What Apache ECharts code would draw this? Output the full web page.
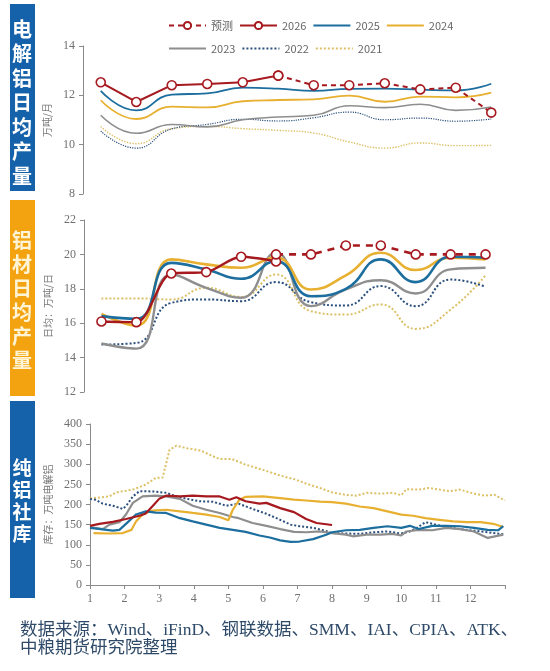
<!DOCTYPE html>
<html lang="zh">
<head>
<meta charset="UTF-8"/>
<title>电解铝 / 铝材 / 纯铝社库</title>
<script src="https://cdn.jsdelivr.net/npm/echarts@6/dist/echarts.min.js"></script>
<style>
  html, body { margin: 0; padding: 0; background: #fff; }
  #main { width: 550px; height: 671px; }
</style>
</head>
<body>
<div id="main"></div>
<script type="text/javascript">
// 月份
var months = ['1', '2', '3', '4', '5', '6', '7', '8', '9', '10', '11', '12'];

// 电解铝日均产量 (万吨/月)
var alFcst = [null, null, null, null, null, 12.80, 12.41, 12.41, 12.49, 12.24, 12.31, 11.30];
var al2026 = [12.53, 11.73, 12.41, 12.46, 12.53, 12.80];
var al2025 = [12.18, 11.39, 12.03, 12.08, 12.31, 12.27, 12.18, 12.26, 12.27, 12.23, 12.20, 12.47];
var al2024 = [11.80, 11.04, 11.54, 11.51, 11.76, 11.81, 11.84, 11.99, 11.74, 11.95, 11.92, 12.11];
var al2023 = [11.19, 10.46, 10.82, 10.72, 11.01, 11.12, 11.19, 11.58, 11.50, 11.64, 11.39, 11.53];
var al2022 = [10.55, 9.86, 10.64, 10.82, 11.03, 10.96, 11.09, 11.32, 11.01, 11.08, 10.95, 11.04];
var al2021 = [10.74, 10.04, 10.65, 10.74, 10.65, 10.58, 10.47, 10.11, 9.86, 10.07, 9.96, 9.97];

// 铝材日均产量 (万吨/日)
var matFcst = [null, null, null, null, null, 20.0, 20.0, 20.52, 20.52, 20.0, 20.0, 20.0];
var mat2026 = [16.10, 16.06, 18.89, 18.97, 19.86, 19.59];
var mat2025 = [16.41, 16.25, 19.51, 19.13, 18.58, 19.61, 17.57, 18.00, 19.71, 18.39, 19.86, 19.81];
var mat2024 = [16.54, 15.86, 19.71, 19.42, 19.22, 19.81, 17.96, 18.78, 20.10, 19.09, 19.81, 19.71];
var mat2023 = [14.82, 14.52, 18.83, 18.06, 17.48, 20.10, 16.99, 17.96, 18.50, 17.73, 19.13, 19.22];
var mat2022 = [14.76, 14.85, 17.18, 17.38, 17.28, 18.39, 17.22, 17.03, 18.16, 16.99, 18.54, 18.12];
var mat2021 = [17.44, 17.44, 17.38, 18.06, 17.53, 18.83, 16.70, 16.50, 17.09, 15.67, 16.79, 18.78];

// 纯铝社库 (万吨) [月份位置, 库存]
var inv2026 = [[1.0, 147], [1.27, 152], [1.66, 157], [2.04, 164], [2.43, 172], [2.6, 177], [2.8, 195], [3.0, 214],
  [3.2, 222], [3.6, 220], [3.97, 222], [4.36, 220], [4.75, 220], [5.03, 212], [5.23, 218], [5.5, 208], [5.9, 202],
  [6.1, 204], [6.5, 191], [6.9, 181], [7.25, 164], [7.55, 154], [8.0, 149]];
var inv2025 = [[1.0, 142], [1.3, 139], [1.66, 135], [1.85, 137], [2.04, 152], [2.33, 175], [2.62, 183], [2.9, 180],
  [3.2, 179], [3.6, 166], [3.97, 158], [4.36, 150], [4.75, 142], [5.13, 137], [5.5, 132], [5.9, 123], [6.2, 118],
  [6.5, 111], [6.8, 107], [7.06, 108], [7.45, 114], [7.83, 125], [8.0, 131], [8.4, 136], [8.8, 137], [9.2, 142],
  [9.6, 146], [10.0, 142], [10.25, 147], [10.5, 139], [10.9, 147], [11.3, 147], [11.7, 146], [12.1, 142],
  [12.5, 137], [12.8, 136], [12.95, 146]];
var inv2024 = [[1.1, 129], [1.56, 128], [1.95, 129], [2.2, 137], [2.33, 158], [2.52, 175], [2.8, 185], [3.2, 187],
  [3.6, 183], [3.97, 179], [4.36, 175], [4.75, 169], [5.0, 161], [5.13, 187], [5.32, 212], [5.5, 219], [6.0, 220],
  [6.5, 216], [6.9, 212], [7.25, 210], [7.65, 207], [8.0, 206], [8.4, 202], [8.8, 195], [9.2, 191], [9.6, 183],
  [10.0, 175], [10.34, 172], [10.7, 166], [11.1, 162], [11.5, 158], [11.9, 156], [12.3, 156], [12.66, 152],
  [12.95, 144]];
var inv2023 = [[1.0, 144], [1.37, 139], [1.56, 150], [1.85, 156], [2.04, 175], [2.24, 204], [2.52, 220], [2.9, 222],
  [3.2, 220], [3.6, 214], [3.97, 197], [4.36, 187], [4.75, 179], [5.13, 169], [5.3, 166], [5.7, 154], [6.1, 147],
  [6.5, 139], [6.9, 132], [7.25, 131], [7.65, 133], [8.0, 129], [8.4, 125], [8.6, 121], [9.0, 125], [9.4, 125],
  [9.75, 127], [10.0, 123], [10.15, 133], [10.5, 137], [10.9, 136], [11.3, 142], [11.7, 139], [12.1, 133],
  [12.5, 117], [12.95, 125]];
var inv2022 = [[1.0, 214], [1.15, 212], [1.37, 202], [1.66, 197], [1.95, 189], [2.05, 197], [2.24, 220], [2.43, 233],
  [2.62, 233], [2.9, 232], [3.2, 229], [3.5, 220], [3.8, 214], [4.17, 208], [4.55, 207], [4.94, 197], [5.3, 202],
  [5.7, 189], [6.1, 177], [6.5, 162], [6.8, 150], [7.06, 146], [7.45, 142], [7.8, 135], [8.0, 129], [8.4, 128],
  [8.8, 127], [9.2, 131], [9.6, 133], [10.0, 128], [10.25, 133], [10.45, 142], [10.7, 156], [10.9, 152],
  [11.3, 144], [11.7, 139], [12.1, 135], [12.5, 131], [12.95, 126]];
var inv2021 = [[1.0, 215], [1.56, 220], [1.75, 230], [2.24, 237], [2.6, 249], [2.9, 266], [3.1, 267], [3.3, 336],
  [3.5, 346], [3.8, 340], [4.2, 334], [4.55, 320], [4.75, 313], [5.1, 313], [5.5, 299], [6.0, 286], [6.5, 272],
  [6.9, 263], [7.25, 252], [7.65, 241], [8.0, 230], [8.4, 224], [8.7, 222], [9.0, 229], [9.4, 227], [9.75, 229],
  [10.0, 223], [10.15, 238], [10.5, 237], [10.8, 241], [11.1, 237], [11.4, 233], [11.7, 237], [12.1, 227],
  [12.4, 222], [12.7, 224], [13.0, 210]];

var cRed = '#A6191F', cBlue = '#1C6E9E', cGold = '#E8B030', cGray = '#8E8E8E', cNavy = '#2B4F7C', cLight = '#DCC066';
var serif = '"Liberation Serif", "DejaVu Serif", serif';
var cjk = '"Noto Sans CJK SC", sans-serif';

var myChart = echarts.init(document.getElementById('main'));

function yAx(idx, min, max, step, name, gap) {
    return {
        type: 'value', gridIndex: idx, min: min, max: max, interval: step,
        name: name, nameLocation: 'middle', nameGap: gap, nameRotate: 90,
        nameTextStyle: { color: '#7a7a7a', fontSize: 10, fontFamily: cjk },
        axisLine: { show: true, lineStyle: { color: '#8a8a8a', width: 1 } },
        axisTick: { show: true, length: 4, lineStyle: { color: '#8a8a8a' } },
        axisLabel: { color: '#707070', fontSize: 12, fontFamily: serif, margin: 8 },
        splitLine: { show: false }
    };
}

function catX(idx) {
    return {
        type: 'category', gridIndex: idx, data: months, boundaryGap: true,
        axisLine: { show: false }, axisTick: { show: false }, axisLabel: { show: false }
    };
}

// 无标记的线: 圆点透明, 图例里也只剩线
function line(name, idx, data, color, width, type, smooth, marker) {
    return {
        name: name, type: 'line', xAxisIndex: idx, yAxisIndex: idx, data: data,
        smooth: smooth, connectNulls: false,
        symbol: 'circle', symbolSize: 9, showSymbol: !!marker,
        itemStyle: { color: '#fff', borderColor: color, borderWidth: 1.6, opacity: marker ? 1 : 0 },
        lineStyle: { color: color, width: width, type: type },
        emphasis: { disabled: true },
        z: marker ? 5 : 2
    };
}

var legendText = { color: '#666', fontSize: 11, fontFamily: cjk };

var option = {
    animation: false,
    backgroundColor: '#ffffff',
    legend: [{
        top: 15, left: 163, itemWidth: 37, itemHeight: 9, itemGap: 6,
        textStyle: legendText,
        data: ['预测', '2026', '2025', '2024']
    }, {
        top: 38, left: 163, itemWidth: 37, itemHeight: 9, itemGap: 6,
        textStyle: legendText,
        data: ['2023', '2022', '2021']
    }],
    grid: [
        { left: 83, top: 46, width: 426, height: 148 },
        { left: 84, top: 220, width: 419, height: 172 },
        { left: 90, top: 424, width: 415, height: 161 }
    ],
    xAxis: [
        catX(0),
        catX(1),
        {
            type: 'value', gridIndex: 2, min: 1, max: 13, interval: 1,
            axisLine: { show: true, lineStyle: { color: '#8a8a8a' } },
            axisTick: { show: true, length: 4, lineStyle: { color: '#8a8a8a' } },
            axisLabel: {
                color: '#707070', fontSize: 12, fontFamily: serif, margin: 8,
                formatter: function (v) { return v >= 13 ? '' : v; }
            },
            splitLine: { show: false }
        }
    ],
    yAxis: [
        yAx(0, 8, 14, 2, '万吨/月', 27),
        yAx(1, 12, 22, 2, '日均：万吨/日', 28),
        yAx(2, 0, 400, 50, '库存：万吨电解铝', 31)
    ],
    graphic: [
        { type: 'rect', left: 10, top: 4, shape: { width: 25, height: 187 }, style: { fill: '#1662AA' } },
        { type: 'rect', left: 10, top: 200, shape: { width: 25, height: 196 }, style: { fill: '#F2A30F' } },
        { type: 'rect', left: 10, top: 401, shape: { width: 25, height: 197 }, style: { fill: '#1662AA' } },
        {
            type: 'text', left: 12, top: 17,
            style: { text: '电\n解\n铝\n日\n均\n产\n量', fill: '#fff', font: 'bold 20px ' + cjk, lineHeight: 24.5 }
        },
        {
            type: 'text', left: 12, top: 228,
            style: { text: '铝\n材\n日\n均\n产\n量', fill: '#FFF4D6', font: 'bold 20px ' + cjk, lineHeight: 24 }
        },
        {
            type: 'text', left: 12.5, top: 457,
            style: { text: '纯\n铝\n社\n库', fill: '#fff', font: 'bold 19px ' + cjk, lineHeight: 22 }
        },
        {
            type: 'text', left: 20, top: 621,
            style: {
                text: '数据来源：Wind、iFinD、钢联数据、SMM、IAI、CPIA、ATK、\n中粮期货研究院整理',
                fill: '#2E4A68', font: '17.5px ' + serif + ', ' + cjk, lineHeight: 18
            }
        }
    ],
    series: [
        // 电解铝
        line('2021', 0, al2021, cLight, 1.4, 'dotted', true, false),
        line('2022', 0, al2022, cNavy, 1.2, 'dotted', true, false),
        line('2023', 0, al2023, cGray, 1.6, 'solid', true, false),
        line('2024', 0, al2024, cGold, 1.8, 'solid', true, false),
        line('2025', 0, al2025, cBlue, 1.8, 'solid', true, false),
        line('2026', 0, al2026, cRed, 2, 'solid', false, true),
        line('预测', 0, alFcst, cRed, 2, [5, 4], false, true),
        // 铝材
        line('2021', 1, mat2021, cLight, 2, 'dotted', true, false),
        line('2022', 1, mat2022, cNavy, 2, 'dotted', true, false),
        line('2023', 1, mat2023, cGray, 2.4, 'solid', true, false),
        line('2024', 1, mat2024, cGold, 2.6, 'solid', true, false),
        line('2025', 1, mat2025, cBlue, 2.6, 'solid', true, false),
        line('2026', 1, mat2026, cRed, 2.4, 'solid', 0.3, true),
        line('预测', 1, matFcst, cRed, 2.6, [7, 6], false, true),
        // 纯铝社库
        line('2021', 2, inv2021, cLight, 2, 'dotted', false, false),
        line('2022', 2, inv2022, cNavy, 2, 'dotted', false, false),
        line('2023', 2, inv2023, cGray, 2.2, 'solid', false, false),
        line('2024', 2, inv2024, cGold, 2.2, 'solid', false, false),
        line('2025', 2, inv2025, cBlue, 2.2, 'solid', false, false),
        line('2026', 2, inv2026, cRed, 2.2, 'solid', false, false)
    ]
};

myChart.setOption(option);
</script>
</body>
</html>
